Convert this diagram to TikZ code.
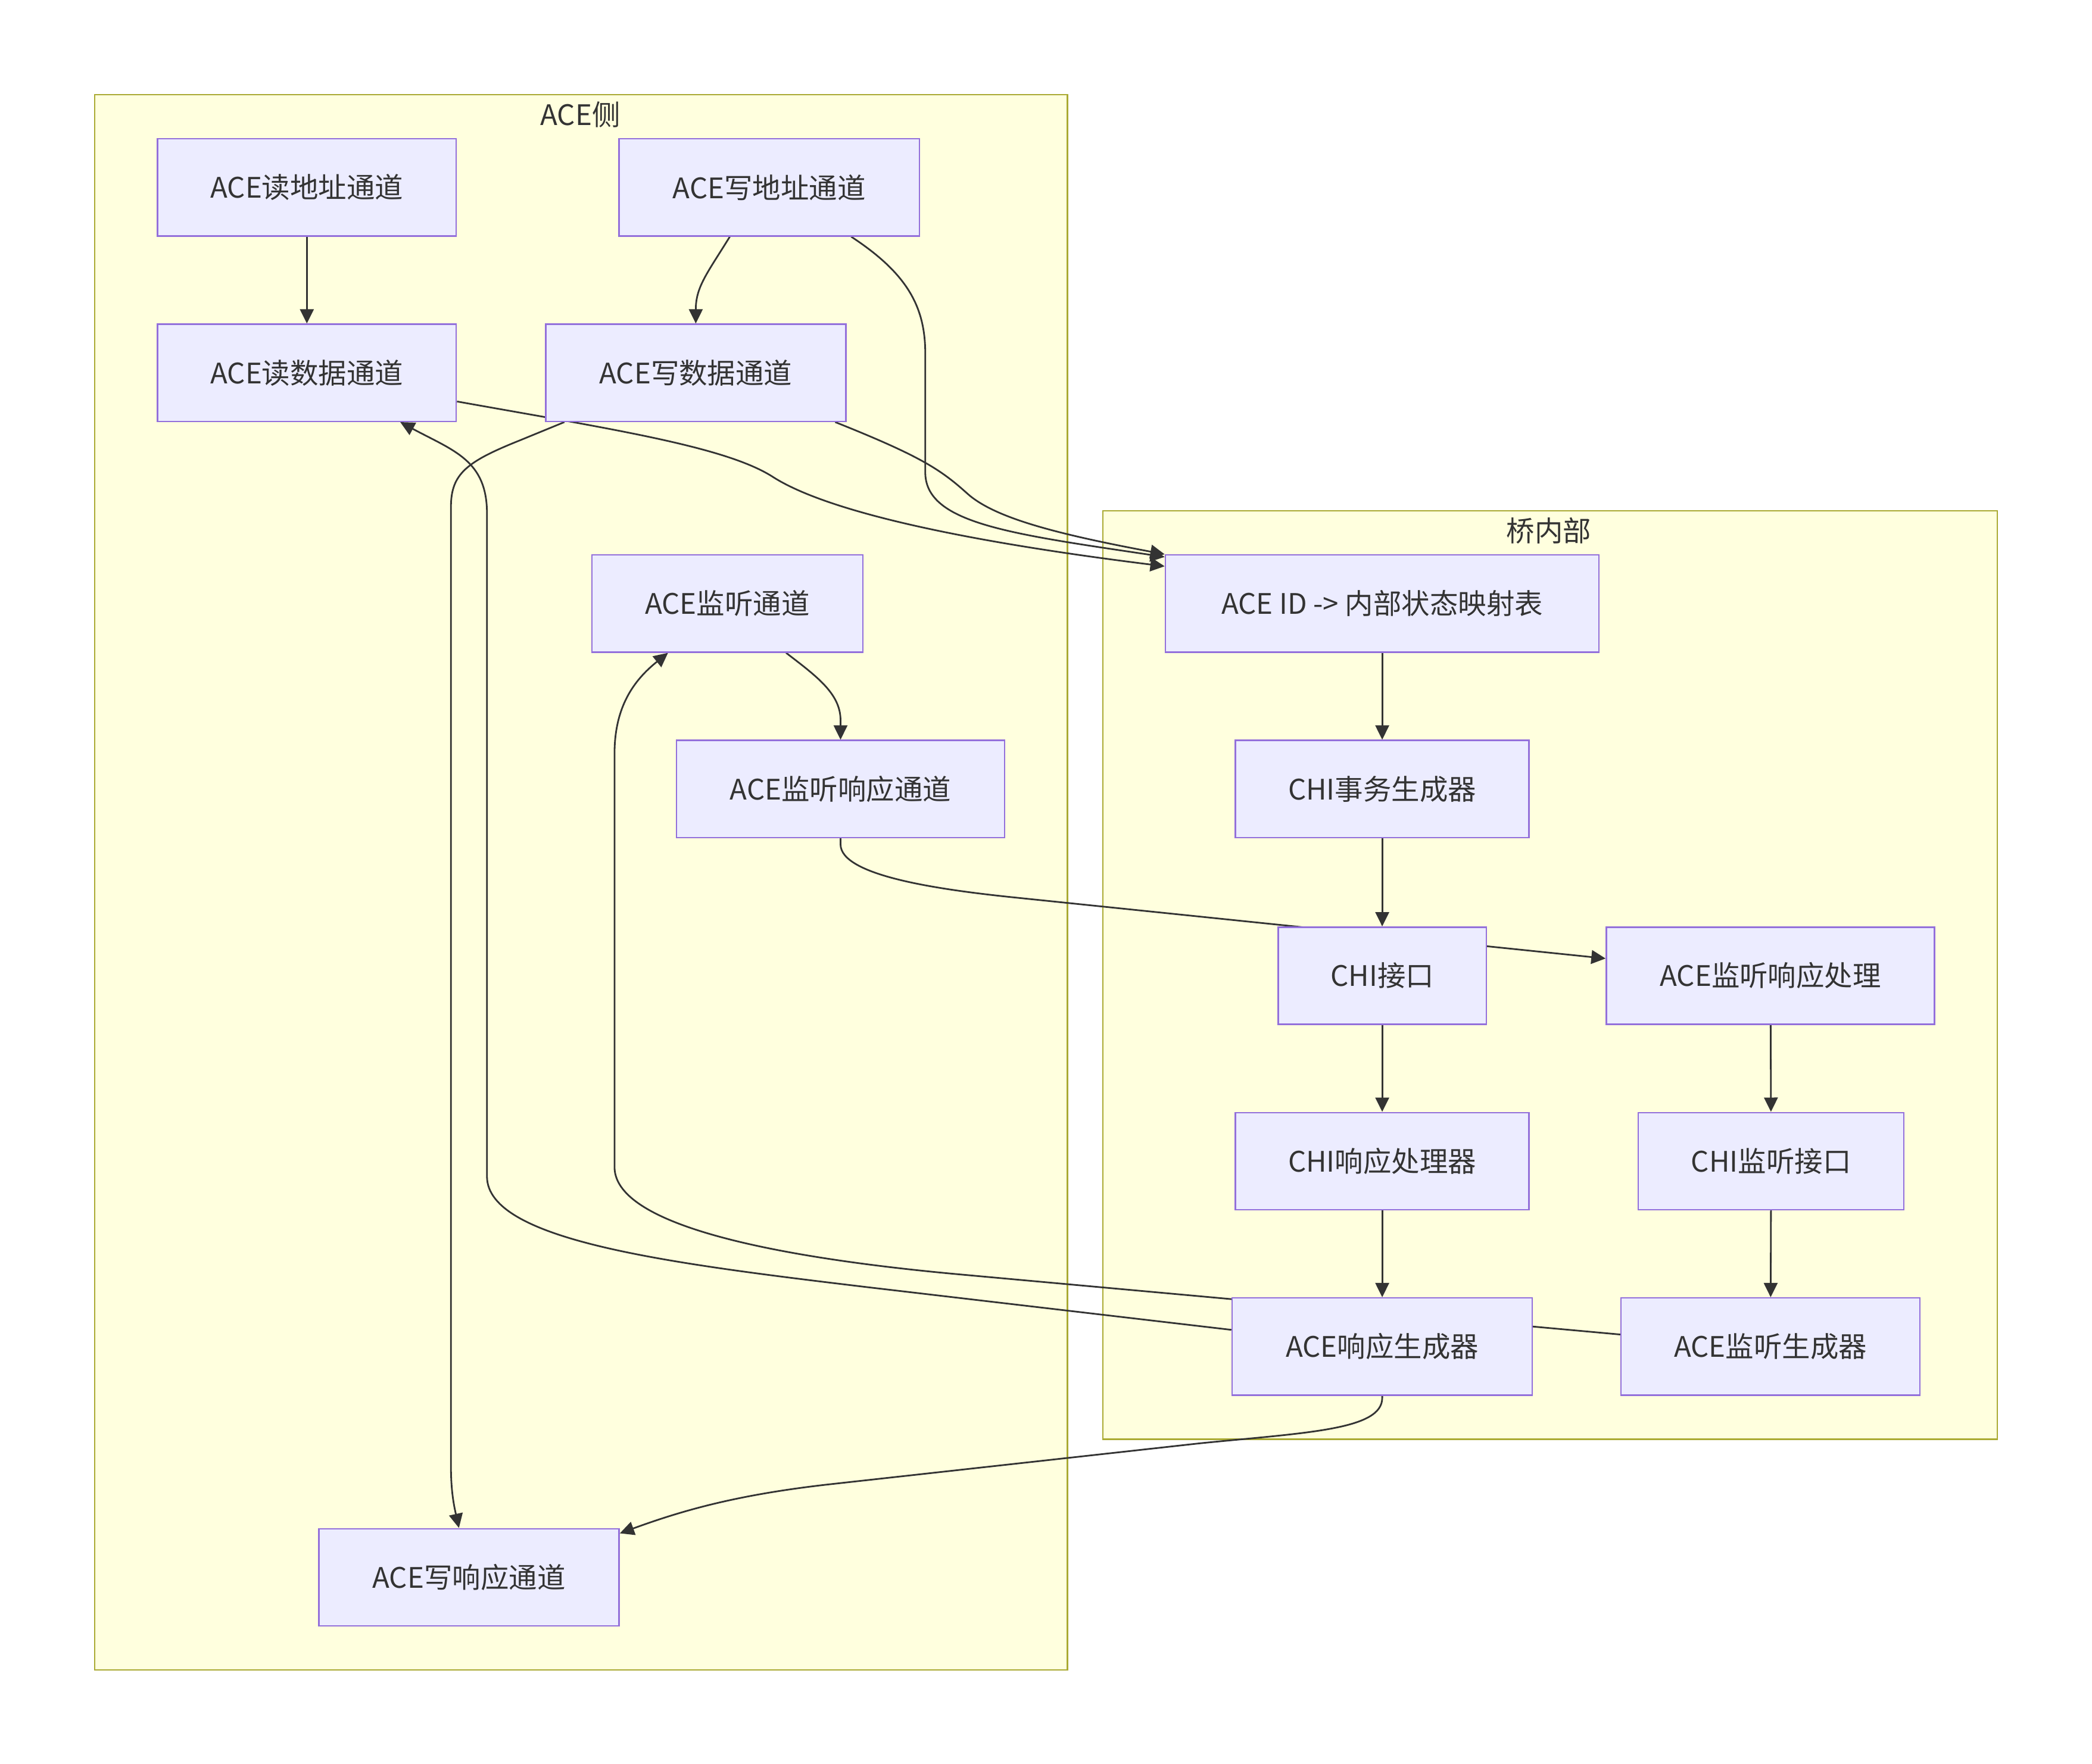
\documentclass[tikz,border=0pt]{standalone}
\usepackage{fontspec}
\setmainfont{Noto Sans CJK SC}
\usetikzlibrary{arrows.meta,calc}
\definecolor{nodefill}{HTML}{ECECFF}
\definecolor{nodeborder}{HTML}{9370DB}
\definecolor{clusterfill}{HTML}{FFFFDE}
\definecolor{clusterborder}{HTML}{AAAA33}
\definecolor{textc}{HTML}{333333}
\pgfdeclarelayer{bg}
\pgfdeclarelayer{edgelayer}
\pgfsetlayers{bg,edgelayer,main}
\tikzset{
  box/.style={draw=nodeborder, fill=nodefill, line width=0.7pt, inner sep=0pt,
    minimum height=1.631cm, text=textc, font=\fontsize{13.5pt}{15pt}\selectfont},
  cluster/.style={draw=clusterborder, fill=clusterfill, line width=0.7pt},
  ctitle/.style={text=textc, inner sep=0pt, font=\fontsize{13.5pt}{15pt}\selectfont},
  edge/.style={draw=textc, line width=0.8pt, -{Triangle[length=0.24cm,width=0.23cm]}}
}
\begin{document}
\begin{tikzpicture}[x=0.022404cm, y=-0.022404cm]
\useasboundingbox (0,0) rectangle (1568,1322.5);
% clusters
\begin{pgfonlayer}{bg}
  \draw[cluster] (71,71) rectangle (800,1252);
  \draw[cluster] (826.6,383) rectangle (1497,1079);
\end{pgfonlayer}
\node[ctitle] (t1) at (435,86) {ACE侧};
\node[ctitle] (t2) at (1161,398) {桥内部};
% nodes
\node[box, minimum width=5.018cm] (rA) at (230,140.5) {ACE读地址通道};
\node[box, minimum width=5.041cm] (wA) at (576.5,140.5) {ACE写地址通道};
\node[box, minimum width=5.018cm] (rD) at (230,279.5) {ACE读数据通道};
\node[box, minimum width=5.041cm] (wD) at (521.5,279.5) {ACE写数据通道};
\node[box, minimum width=4.548cm] (sC) at (545.2,452.5) {ACE监听通道};
\node[box, minimum width=5.511cm] (sR) at (630,591.5) {ACE监听响应通道};
\node[box, minimum width=5.041cm] (wR) at (351.5,1182.5) {ACE写响应通道};
\node[box, minimum width=7.281cm] (map) at (1036,452.5) {ACE ID -> 内部状态映射表};
\node[box, minimum width=4.929cm] (txg) at (1036,591.5) {CHI事务生成器};
\node[box, minimum width=3.495cm] (chi) at (1036,731.5) {CHI接口};
\node[box, minimum width=5.511cm] (sRP) at (1327,731.5) {ACE监听响应处理};
\node[box, minimum width=4.929cm] (rsp) at (1036,870.5) {CHI响应处理器};
\node[box, minimum width=4.458cm] (sI) at (1327.5,870.5) {CHI监听接口};
\node[box, minimum width=5.041cm] (rG) at (1036,1009.5) {ACE响应生成器};
\node[box, minimum width=5.018cm] (sG) at (1327,1009.5) {ACE监听生成器};
% edges
\begin{pgfonlayer}{edgelayer}
  \draw[edge] (rA) -- (rD);
  \draw[edge] ($(wA.south)+(-29.5,0)$) .. controls (530,205) and (521.5,215) .. (wD.north);
  \draw[edge] ($(wA.south)+(61.5,0)$) .. controls (680,205) and (693.5,230) .. (693.5,265)
     -- (693.5,354) .. controls (693.5,392) and (755,400) .. ($(map.north west)+(0,2)$);
  \draw[edge] ($(rD.east)+(0,21.5)$) .. controls (460,322) and (545,335) .. (580,358)
     .. controls (615,380) and (700,403) .. ($(map.north west)+(0,9)$);
  \draw[edge] ($(wD.south)+(104.5,0)$) .. controls (690,342) and (705,352) .. (725,370)
     .. controls (745,388) and (790,400) .. (map.north west);
  \draw[edge] ($(wD.south)+(-98.5,0)$) -- (390,330) .. controls (350,346) and (338,355) .. (338,380)
     -- (338,1100) .. controls (338,1120) and (341,1132) .. ($(wR.north)+(-7.5,0)$);
  \draw[edge] ($(rG.west)+(0,-12.5)$) -- (650,965) .. controls (500,947) and (365,930) .. (365,882)
     -- (365,385) .. controls (365,345) and (340,338) .. ($(rD.south)+(70,0)$);
  \draw[edge] ($(sG.west)+(0,-9)$) -- (720,955.5) .. controls (600,944.6) and (460.6,922) .. (460.6,875)
     -- (460.6,565) .. controls (460.6,530) and (475,510) .. ($(sC.south)+(-44.5,0)$);
  \draw[edge] ($(sC.south)+(44,0)$) .. controls (612,507) and (630,520) .. (630,540) -- (sR.north);
  \draw[edge] (sR.south) -- (630,633) .. controls (630,656) and (700,666.6) .. (760,672.8)
     -- ($(sRP.west)+(0,-12.9)$);
  \draw[edge] (map) -- (txg);
  \draw[edge] (txg) -- (chi);
  \draw[edge] (chi) -- (rsp);
  \draw[edge] (rsp) -- (rG);
  \draw[edge] (sRP) -- (sI);
  \draw[edge] (sI) -- (sG);
  \draw[edge] (rG.south) -- (1036,1048) .. controls (1036,1072) and (980,1074) .. (900,1082)
     -- (620,1113) .. controls (550,1121) and (510,1133) .. ($(wR.north east)+(0,4)$);
\end{pgfonlayer}
\end{tikzpicture}
\end{document}
